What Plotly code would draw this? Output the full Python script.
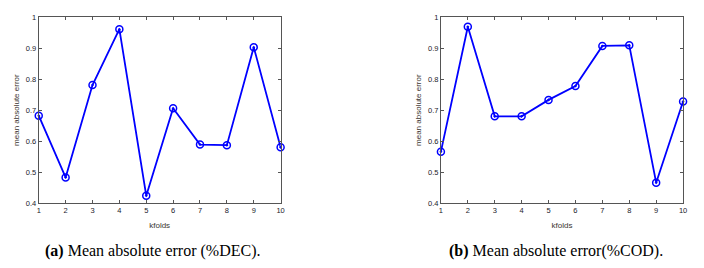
import plotly.graph_objects as go

kfolds = [1, 2, 3, 4, 5, 6, 7, 8, 9, 10]
mae_dec = [0.682, 0.483, 0.781, 0.961, 0.424, 0.706, 0.589, 0.587, 0.903, 0.580]
mae_cod = [0.566, 0.969, 0.680, 0.680, 0.733, 0.778, 0.907, 0.909, 0.466, 0.728]
y_ticks = [0.4, 0.5, 0.6, 0.7, 0.8, 0.9, 1]
y_ticktext = ["0.4", "0.5", "0.6", "0.7", "0.8", "0.9", "1"]
captions = ["<b>(a)</b> Mean absolute error (%DEC).", "<b>(b)</b> Mean absolute error(%COD)."]

# page is offset by the default 8px body margin
OFF = 8
W, H = 704 - 2 * OFF, 268 - OFF

def px(x):
    return (x - OFF) / W

def py(y):
    return 1 - (y - OFF) / H

fig = go.Figure()

blue = "#0000ff"
for i, vals in enumerate([mae_dec, mae_cod]):
    xa = "x" if i == 0 else "x2"
    ya = "y" if i == 0 else "y2"
    fig.add_trace(go.Scatter(
        x=kfolds, y=vals, mode="lines+markers", xaxis=xa, yaxis=ya,
        line=dict(color=blue, width=1.8),
        marker=dict(symbol="circle-open-dot", size=7, color=blue, line=dict(width=1.5, color=blue)),
        showlegend=False, cliponaxis=False,
    ))

tickfont = dict(family="Liberation Sans, Arial", size=7.5, color="#1a1a2a")
titlefont = dict(family="Liberation Sans, Arial", size=8, color="#3a3530")

def xaxis(domain, anchor):
    return dict(domain=domain, anchor=anchor, range=[1, 10], tickvals=kfolds,
                ticks="inside", ticklen=3, tickcolor="#555555", mirror="ticks",
                showline=True, linecolor="#555555", linewidth=1, showgrid=False, zeroline=False,
                tickfont=tickfont, title=dict(text="kfolds", font=titlefont, standoff=8))

def yaxis(domain, anchor):
    return dict(domain=domain, anchor=anchor, range=[0.4, 1], tickvals=y_ticks, ticktext=y_ticktext,
                ticks="inside", ticklen=3, tickcolor="#555555", mirror="ticks",
                showline=True, linecolor="#555555", linewidth=1, showgrid=False, zeroline=False,
                tickfont=tickfont, title=dict(text="mean absolute error", font=titlefont, standoff=5))

ydom = [py(206), py(13.3)]
dom_a = [px(37), px(281)]
dom_b = [px(442.7), px(687)]

fig.update_layout(
    width=W, height=H, margin=dict(l=0, r=0, t=0, b=0),
    paper_bgcolor="white", plot_bgcolor="white",
    xaxis=xaxis(dom_a, "y"), yaxis=yaxis(ydom, "x"),
    xaxis2=xaxis(dom_b, "y2"), yaxis2=yaxis(ydom, "x2"),
)

for cx, text in zip([152, 559], captions):
    fig.add_annotation(x=px(cx), y=py(266), xref="paper", yref="paper", text=text,
                       showarrow=False, xanchor="center", yanchor="bottom", borderpad=0,
                       font=dict(family="Liberation Serif, Times New Roman", size=16, color="black"))

fig.write_html("out.html")
